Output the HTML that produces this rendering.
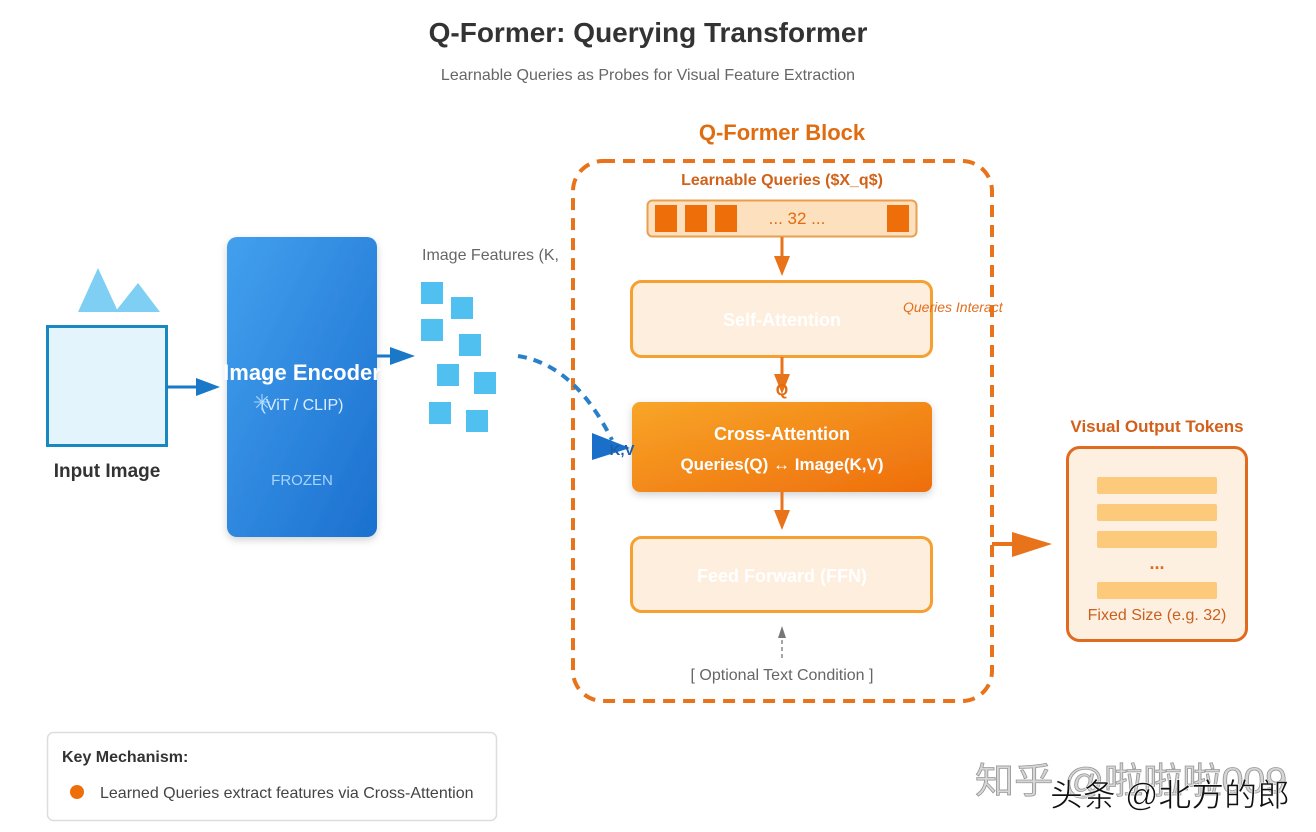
<!DOCTYPE html>
<html><head><meta charset="utf-8"><style>
html,body{margin:0;padding:0;background:#fff;}
svg{display:block;font-family:"Liberation Sans","Noto Sans CJK SC",sans-serif;}
</style></head><body>
<svg width="1316" height="832" viewBox="0 0 1316 832" xmlns="http://www.w3.org/2000/svg">
<defs>
<linearGradient id="enc" x1="0" y1="0" x2="1" y2="1"><stop offset="0" stop-color="#42a0ee"/><stop offset="1" stop-color="#1c70cf"/></linearGradient>
<linearGradient id="ca" x1="0" y1="0" x2="1" y2="1"><stop offset="0" stop-color="#f8a528"/><stop offset="1" stop-color="#ee6e0c"/></linearGradient>
<filter id="sh" x="-20%" y="-20%" width="140%" height="140%"><feDropShadow dx="0" dy="3" stdDeviation="4" flood-color="#000" flood-opacity="0.18"/></filter>
</defs>
<text x="648" y="42" text-anchor="middle" font-size="28" font-weight="bold" fill="#333">Q-Former: Querying Transformer</text>
<text x="648" y="80" text-anchor="middle" font-size="16" fill="#666">Learnable Queries as Probes for Visual Feature Extraction</text>

<polygon points="78,312 98,268 115,305 118,312" fill="#7fcff5"/>
<polygon points="115,312 138,283 160,312" fill="#7fcff5"/>
<rect x="47.5" y="326.5" width="119" height="119" fill="#e3f4fc" stroke="#1a88c0" stroke-width="3"/>
<text x="107" y="477" text-anchor="middle" font-size="19" font-weight="bold" fill="#333">Input Image</text>
<line x1="167" y1="387" x2="200" y2="387" stroke="#1a78c8" stroke-width="3"/>
<polygon points="196,378 220,387 196,396" fill="#1a78c8"/>

<rect x="227" y="237" width="150" height="300" rx="10" fill="url(#enc)" filter="url(#sh)"/>
<text x="302" y="380" text-anchor="middle" font-size="22" font-weight="bold" fill="#fff">Image Encoder</text>
<text x="302" y="410" text-anchor="middle" font-size="16" fill="#d8ecff">(ViT / CLIP)</text>
<text x="262" y="410" text-anchor="middle" font-size="22" fill="#a8d8ff">✳</text>
<text x="302" y="485" text-anchor="middle" font-size="15" fill="#a8d4ff">FROZEN</text>
<line x1="377" y1="356" x2="395" y2="356" stroke="#1a78c8" stroke-width="3"/>
<polygon points="390,347 415,356 390,365" fill="#1a78c8"/>

<text x="422" y="260" font-size="16" fill="#666">Image Features (K,</text>
<g fill="#4fc0f0">
<rect x="421" y="282" width="22" height="22"/><rect x="451" y="297" width="22" height="22"/>
<rect x="421" y="319" width="22" height="22"/><rect x="459" y="334" width="22" height="22"/>
<rect x="437" y="364" width="22" height="22"/><rect x="474" y="372" width="22" height="22"/>
<rect x="429" y="402" width="22" height="22"/><rect x="466" y="410" width="22" height="22"/>
</g>

<text x="782" y="140" text-anchor="middle" font-size="22" font-weight="bold" fill="#e06c10">Q-Former Block</text>
<rect x="573" y="161" width="419" height="540" rx="30" fill="none" stroke="#e8731a" stroke-width="4" stroke-dasharray="12 8"/>
<text x="782" y="185" text-anchor="middle" font-size="16" font-weight="bold" fill="#d0621a">Learnable Queries ($X_q$)</text>
<rect x="647.5" y="200.5" width="269" height="36" rx="5" fill="#fde0bd" stroke="#e8a050" stroke-width="2"/>
<g fill="#ee6f0a"><rect x="655" y="205" width="22" height="27"/><rect x="685" y="205" width="22" height="27"/><rect x="715" y="205" width="22" height="27"/><rect x="887" y="205" width="22" height="27"/></g>
<text x="797" y="224" text-anchor="middle" font-size="17" fill="#e06c10">... 32 ...</text>

<line x1="782" y1="237" x2="782" y2="260" stroke="#e8731a" stroke-width="3"/>
<polygon points="774,256 782,276 790,256" fill="#e8731a"/>
<rect x="631.5" y="281.5" width="300" height="75" rx="10" fill="#fdeedd" stroke="#f5a030" stroke-width="3"/>
<text x="782" y="326" text-anchor="middle" font-size="18" font-weight="bold" fill="#fff">Self-Attention</text>
<text x="903" y="312" font-size="14" font-style="italic" fill="#e07020">Queries Interact</text>

<line x1="782" y1="357" x2="782" y2="378" stroke="#e8731a" stroke-width="3"/>
<polygon points="774,374 782,394 790,374" fill="#e8731a"/>
<text x="782" y="395" text-anchor="middle" font-size="16" font-weight="bold" fill="#e06c10">Q</text>

<rect x="632" y="402" width="300" height="90" rx="8" fill="url(#ca)" filter="url(#sh)"/>
<text x="782" y="440" text-anchor="middle" font-size="18" font-weight="bold" fill="#fff">Cross-Attention</text>
<text x="782" y="470" text-anchor="middle" font-size="17" font-weight="bold" fill="#fff">Queries(Q) ↔ Image(K,V)</text>

<line x1="782" y1="492" x2="782" y2="514" stroke="#e8731a" stroke-width="3"/>
<polygon points="774,510 782,530 790,510" fill="#e8731a"/>
<rect x="631.5" y="537.5" width="300" height="74" rx="10" fill="#fdeedd" stroke="#f5a030" stroke-width="3"/>
<text x="782" y="582" text-anchor="middle" font-size="18" font-weight="bold" fill="#fff">Feed Forward (FFN)</text>

<line x1="782" y1="658" x2="782" y2="636" stroke="#888" stroke-width="1.5" stroke-dasharray="4 3"/>
<polygon points="778,638 782,626 786,638" fill="#777"/>
<text x="782" y="680" text-anchor="middle" font-size="16" fill="#666">[ Optional Text Condition ]</text>

<path d="M518,356 Q575,365 612,440" fill="none" stroke="#2a80c8" stroke-width="4" stroke-dasharray="9 7"/>
<polygon points="592,433 630,448 592,460" fill="#1a70c8"/>
<text x="622" y="455" text-anchor="middle" font-size="15" font-weight="bold" fill="#1a5fa8">K,V</text>

<line x1="992" y1="544" x2="1020" y2="544" stroke="#e8731a" stroke-width="4"/>
<polygon points="1012,532 1052,544 1012,557" fill="#e8731a"/>
<text x="1157" y="432" text-anchor="middle" font-size="17" font-weight="bold" fill="#d2601a">Visual Output Tokens</text>
<rect x="1067.5" y="447.5" width="179" height="193" rx="12" fill="#fdf0e0" stroke="#e06a20" stroke-width="3"/>
<g fill="#fdc97a"><rect x="1097" y="477" width="120" height="17" rx="2"/><rect x="1097" y="504" width="120" height="17" rx="2"/><rect x="1097" y="531" width="120" height="17" rx="2"/><rect x="1097" y="582" width="120" height="17" rx="2"/></g>
<text x="1157" y="569" text-anchor="middle" font-size="18" font-weight="bold" fill="#e06a20">...</text>
<text x="1157" y="620" text-anchor="middle" font-size="16" fill="#c86020">Fixed Size (e.g. 32)</text>

<rect x="47.5" y="732.5" width="449" height="88" rx="6" fill="#fff" stroke="#ddd" stroke-width="1.5"/>
<text x="62" y="762" font-size="16" font-weight="bold" fill="#333">Key Mechanism:</text>
<circle cx="77" cy="792" r="7" fill="#ee6f0a"/>
<text x="100" y="798" font-size="16" fill="#444">Learned Queries extract features via Cross-Attention</text>

<text x="975" y="793" font-size="36" fill="#d6d6d6" stroke="#999" stroke-width="0.8" textLength="312" lengthAdjust="spacingAndGlyphs">知乎 @啦啦啦009</text>
<text x="1050" y="806" font-size="32" fill="#111" stroke="#fff" stroke-width="0.6" textLength="240" lengthAdjust="spacingAndGlyphs">头条 @北方的郎</text>
</svg>
</body></html>
